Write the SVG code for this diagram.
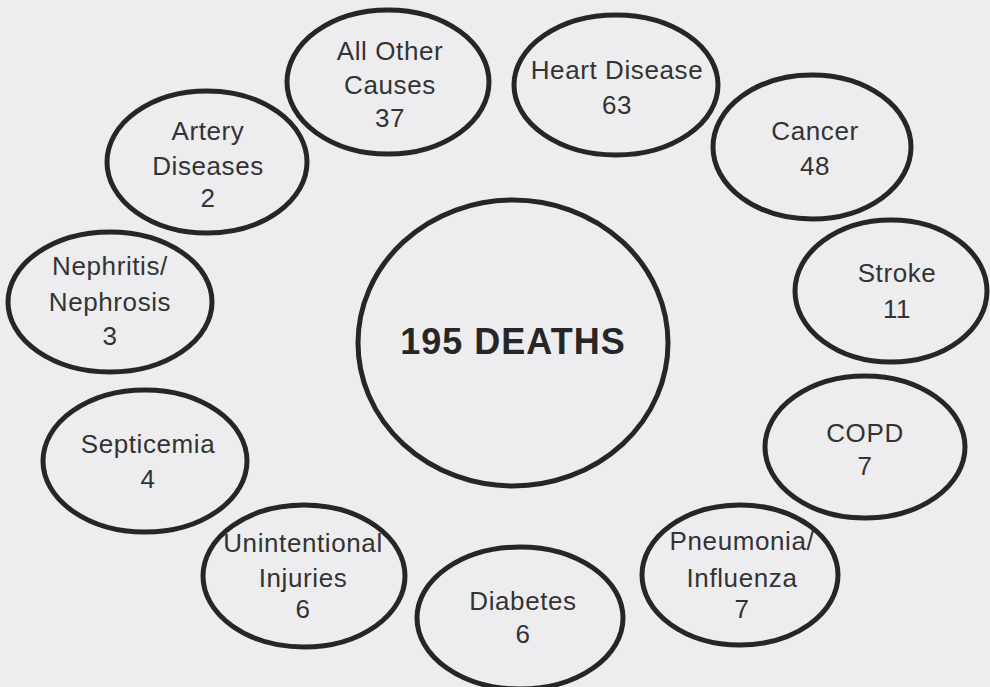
<svg xmlns="http://www.w3.org/2000/svg" width="990" height="687" viewBox="0 0 990 687">
<style>
.bg{fill:#ededef}
.n{fill:none;stroke:#262626;stroke-width:5}
.t{font-family:"Liberation Sans",Arial,sans-serif;font-size:26px;letter-spacing:0.6px;fill:#333;text-anchor:middle}
.b{font-family:"Liberation Sans",Arial,sans-serif;font-size:36px;letter-spacing:1px;font-weight:bold;fill:#262626;text-anchor:middle}
</style>
<rect class="bg" x="0" y="0" width="990" height="687"/>
<g id="connectors"></g>
<g id="center"><ellipse class="n" cx="513" cy="343" rx="155" ry="143"/><text class="b" x="513" y="354">195 DEATHS</text></g>
<g id="all-other"><ellipse class="n" cx="388" cy="82" rx="101" ry="72"/><text class="t" x="390" y="60">All Other</text><text class="t" x="390" y="94">Causes</text><text class="t" x="390" y="127">37</text></g>
<g id="heart"><ellipse class="n" cx="616" cy="85" rx="102" ry="70"/><text class="t" x="617" y="79">Heart Disease</text><text class="t" x="617" y="114">63</text></g>
<g id="cancer"><ellipse class="n" cx="812" cy="147" rx="99" ry="72"/><text class="t" x="815" y="140">Cancer</text><text class="t" x="815" y="175">48</text></g>
<g id="artery"><ellipse class="n" cx="207" cy="162" rx="100" ry="71"/><text class="t" x="208" y="140">Artery</text><text class="t" x="208" y="175">Diseases</text><text class="t" x="208" y="207">2</text></g>
<g id="nephritis"><ellipse class="n" cx="110" cy="302" rx="102" ry="70"/><text class="t" x="110" y="275">Nephritis/</text><text class="t" x="110" y="311">Nephrosis</text><text class="t" x="110" y="345">3</text></g>
<g id="stroke"><ellipse class="n" cx="891" cy="291" rx="96" ry="71"/><text class="t" x="897" y="282">Stroke</text><text class="t" x="897" y="318">11</text></g>
<g id="septicemia"><ellipse class="n" cx="145" cy="461" rx="102" ry="71"/><text class="t" x="148" y="453">Septicemia</text><text class="t" x="148" y="488">4</text></g>
<g id="copd"><ellipse class="n" cx="865" cy="447" rx="100" ry="71"/><text class="t" x="865" y="442">COPD</text><text class="t" x="865" y="475">7</text></g>
<g id="unintentional"><ellipse class="n" cx="304" cy="576" rx="101" ry="71"/><text class="t" x="303" y="552">Unintentional</text><text class="t" x="303" y="587">Injuries</text><text class="t" x="303" y="618">6</text></g>
<g id="diabetes"><ellipse class="n" cx="520" cy="618" rx="103" ry="71"/><text class="t" x="523" y="610">Diabetes</text><text class="t" x="523" y="643">6</text></g>
<g id="pneumonia"><ellipse class="n" cx="740" cy="575" rx="98" ry="70"/><text class="t" x="742" y="550">Pneumonia/</text><text class="t" x="742" y="587">Influenza</text><text class="t" x="742" y="618">7</text></g>
</svg>
